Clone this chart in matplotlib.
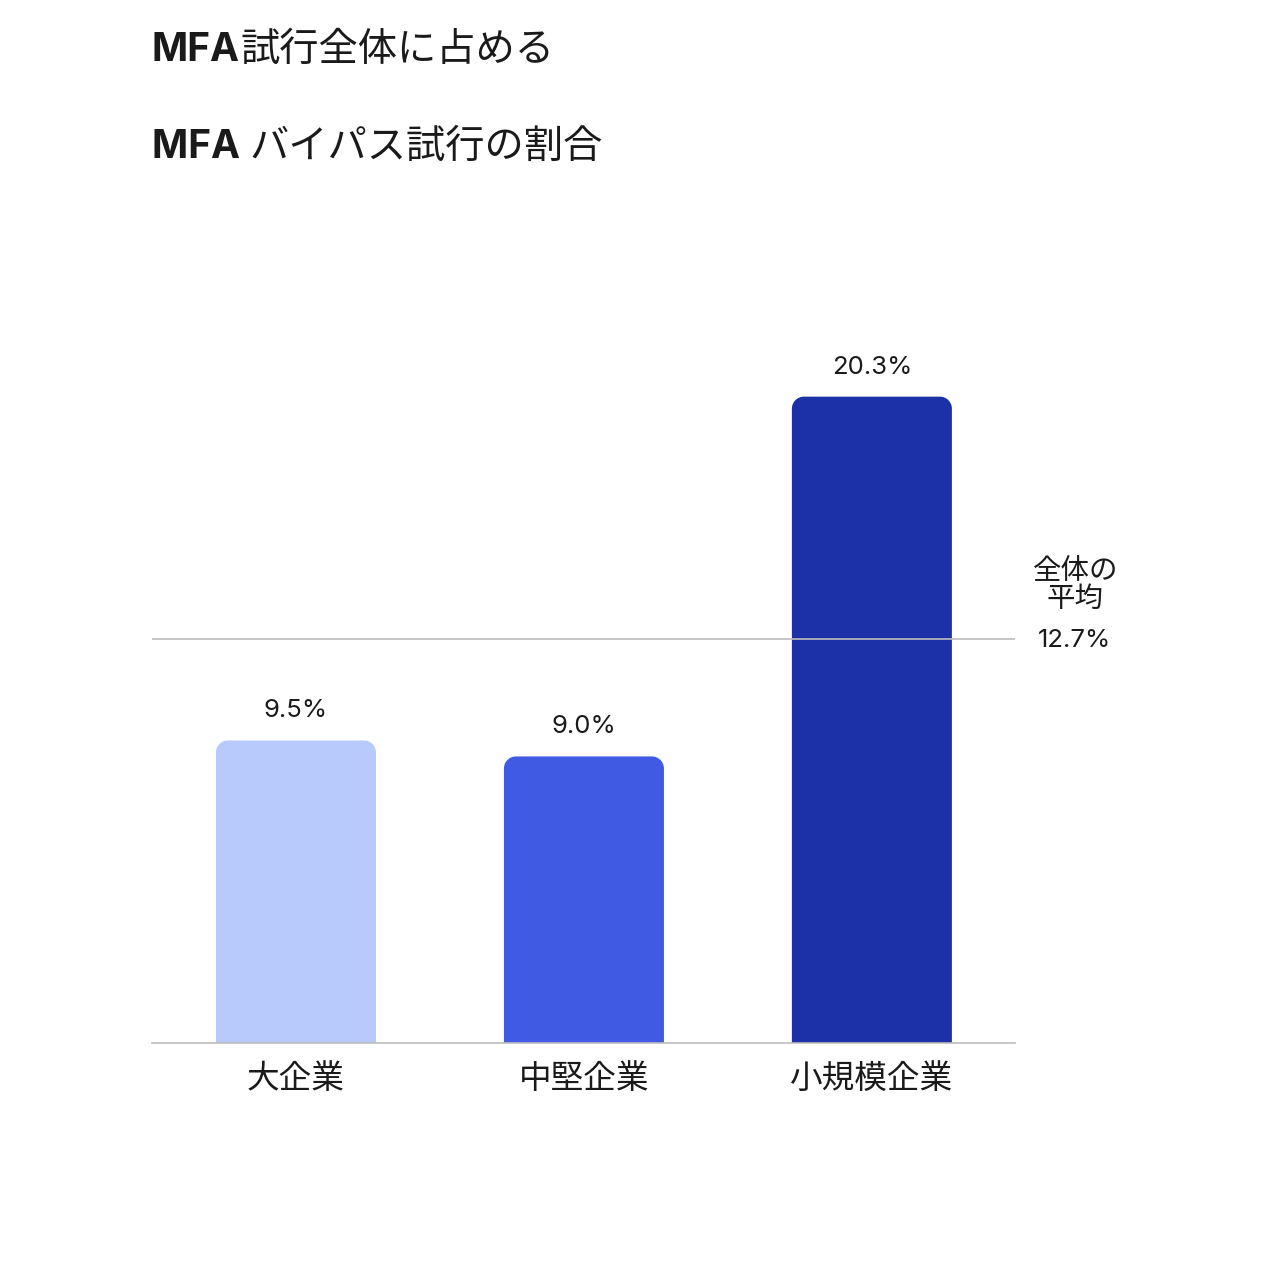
import matplotlib
matplotlib.use("Agg")
import matplotlib.pyplot as plt
from matplotlib.path import Path
from matplotlib.patches import PathPatch

# data
categories = ["大企業", "中堅企業", "小規模企業"]
values = [9.5, 9.0, 20.3]
value_labels = ["9.5%", "9.0%", "20.3%"]
bar_colors = ["#B8C9FC", "#405AE4", "#1C30A7"]
average = 12.7
average_label = "12.7%"
average_title = "全体の\n平均"
title_bold = ["MFA", "MFA "]
title_rest = ["試行全体に占める", "バイパス試行の割合"]

plt.rcParams['font.family'] = ['Inter', 'Noto Sans CJK JP', 'DejaVu Sans']
TEXT = "#1a1a1a"

W, H = 1280, 1280
fig = plt.figure(figsize=(12.8, 12.8), dpi=100)
ax_left, ax_right = 152, 1015
ax_bottom, ax_top = 1043, 247
ax = fig.add_axes([ax_left / W, 1 - ax_bottom / H,
                   (ax_right - ax_left) / W, (ax_bottom - ax_top) / H])
ax.set_xlim(-0.5, 2.497)
ax.set_ylim(0, 25)

# pixel size of one data unit, for the corner radius
px_x = (ax_right - ax_left) / (2.497 + 0.5)
px_y = (ax_bottom - ax_top) / 25.0


def rounded_bar(ax, x, h, w, color, r_px=12):
    rx, ry = r_px / px_x, r_px / px_y
    l, r = x - w / 2, x + w / 2
    k = 0.5523
    verts = [(l, 0), (l, h - ry), (l, h - ry + k * ry), (l + rx - k * rx, h), (l + rx, h),
             (r - rx, h), (r - rx + k * rx, h), (r, h - ry + k * ry), (r, h - ry),
             (r, 0), (l, 0)]
    codes = [Path.MOVETO, Path.LINETO, Path.CURVE4, Path.CURVE4, Path.CURVE4,
             Path.LINETO, Path.CURVE4, Path.CURVE4, Path.CURVE4,
             Path.LINETO, Path.CLOSEPOLY]
    ax.add_patch(PathPatch(Path(verts, codes), facecolor=color, edgecolor="none", zorder=2))


bar_w = 160 / px_x
for i, (v, c, lab) in enumerate(zip(values, bar_colors, value_labels)):
    rounded_bar(ax, i, v, bar_w, c)
    ax.annotate(lab, (i, v), xytext=(0, 13), textcoords="offset points",
                ha="center", va="bottom", fontsize=18.5, color=TEXT)

# average line
ax.axhline(average, color="#BDBDBD", lw=1.2, zorder=3)
ax.annotate(average_label, (1.0684, average), xycoords=("axes fraction", "data"),
            xytext=(0, -1.5), textcoords="offset points",
            ha="center", va="center", fontsize=18.5, color=TEXT, annotation_clip=False)
ax.annotate(average_title, (1.0684, average), xycoords=("axes fraction", "data"),
            xytext=(1, 38), textcoords="offset points", linespacing=1.05,
            ha="center", va="center", fontsize=20.5, color=TEXT, annotation_clip=False)

ax.set_xticks(range(len(categories)))
ax.set_xticklabels(categories, fontsize=23.5, color=TEXT)
ax.tick_params(axis="x", length=0, pad=15)
ax.set_yticks([])
for s in ["top", "left", "right"]:
    ax.spines[s].set_visible(False)
ax.spines["bottom"].set_color("#BDBDBD")
ax.spines["bottom"].set_linewidth(1.2)
ax.spines["bottom"].set_zorder(3)

# two-line title, MFA in bold
renderer = fig.canvas.get_renderer()
for yc, b, rest in zip([48, 145], title_bold, title_rest):
    t = fig.text(152 / W, 1 - (yc + 13) / H, b, fontsize=28, fontweight="bold",
                 color=TEXT, va="baseline", ha="left")
    bb = t.get_window_extent(renderer)
    fig.text(bb.x1 / W, 1 - (yc + 13) / H, rest, fontsize=28.3, color=TEXT,
             va="baseline", ha="left")

fig.savefig("out.png", dpi=100)
plt.close()
